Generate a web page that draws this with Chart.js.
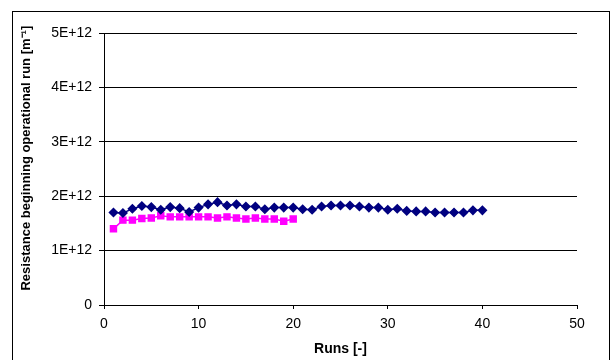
<!DOCTYPE html>
<html>
<head>
<meta charset="utf-8">
<script src="https://cdn.jsdelivr.net/npm/chart.js@4"></script>
<style>
html,body{margin:0;padding:0;background:#fff;}
#wrap{position:relative;width:611px;height:360px;}
</style>
</head>
<body>
<div id="wrap"><canvas id="c" width="611" height="360"></canvas></div>
<script>
const runsA = [1,2,3,4,5,6,7,8,9,10,11,12,13,14,15,16,17,18,19,20,21,22,23,24,25,26,27,28,29,30,31,32,33,34,35,36,37,38,39,40];
const seriesA = [1.70,1.69,1.77,1.82,1.80,1.75,1.80,1.78,1.71,1.79,1.85,1.89,1.83,1.85,1.81,1.81,1.76,1.79,1.79,1.79,1.76,1.75,1.81,1.83,1.83,1.83,1.81,1.79,1.79,1.75,1.77,1.73,1.72,1.72,1.70,1.70,1.70,1.70,1.74,1.74].map(v => v * 1e12);
const runsB = [1,2,3,4,5,6,7,8,9,10,11,12,13,14,15,16,17,18,19,20];
const seriesB = [1.40,1.56,1.56,1.59,1.60,1.64,1.62,1.62,1.62,1.62,1.62,1.60,1.62,1.60,1.58,1.60,1.58,1.58,1.54,1.58].map(v => v * 1e12);
const yTickLabels = {0:'0',1:'1E+12',2:'2E+12',3:'3E+12',4:'4E+12',5:'5E+12'};
const xTitle = 'Runs [-]';
const yTitle = 'Resistance beginning operational run [m\u207B\u00B9]';

const frame = {
  id: 'frame',
  afterDraw(chart) {
    const ctx = chart.ctx;
    ctx.save();
    ctx.strokeStyle = '#000';
    ctx.lineWidth = 1;
    ctx.strokeRect(12.5, 11.5, 597, 360);
    ctx.restore();
  }
};

const ffam = '"Liberation Sans", Arial, sans-serif';

new Chart(document.getElementById('c'), {
  type: 'scatter',
  data: {
    datasets: [
      {
        data: runsA.map((x, i) => ({x, y: seriesA[i]})),
        showLine: true,
        borderColor: '#000080',
        backgroundColor: '#000080',
        borderWidth: 1.5,
        pointStyle: 'rectRot',
        pointRadius: 4,
        pointHoverRadius: 4
      },
      {
        data: runsB.map((x, i) => ({x, y: seriesB[i]})),
        showLine: true,
        borderColor: '#FF00FF',
        backgroundColor: '#FF00FF',
        borderWidth: 1.5,
        pointStyle: 'rect',
        pointRadius: 4.2,
        pointHoverRadius: 4.2
      }
    ]
  },
  options: {
    responsive: false,
    animation: false,
    events: [],
    layout: {padding: {left: 0, top: 33, right: 34, bottom: 0}},
    plugins: {legend: {display: false}, tooltip: {enabled: false}},
    scales: {
      x: {
        type: 'linear',
        min: 0, max: 50,
        afterFit(s) { s.height = 55; },
        ticks: {stepSize: 10, color: '#000', padding: 7, font: {family: ffam, size: 14}, maxRotation: 0},
        grid: {drawOnChartArea: false, color: '#000', tickLength: 4, tickColor: '#000'},
        border: {color: '#000', width: 1},
        title: {display: true, text: xTitle, color: '#000', font: {family: ffam, size: 14, weight: 'bold'}, padding: {top: 0, bottom: 2}}
      },
      y: {
        min: 0, max: 5e12,
        afterFit(s) { s.width = 104; },
        ticks: {
          stepSize: 1e12, color: '#000', padding: 7,
          font: {family: ffam, size: 14},
          callback: v => yTickLabels[Math.round(v / 1e12)]
        },
        grid: {color: '#000', lineWidth: 1, tickLength: 5, tickColor: '#000'},
        border: {color: '#000', width: 1},
        title: {display: true, text: '      ' + yTitle, color: '#000', font: {family: ffam, size: 13, weight: 'bold'}, padding: {top: 19, bottom: 0}}
      }
    }
  },
  plugins: [frame]
});
</script>
</body>
</html>
